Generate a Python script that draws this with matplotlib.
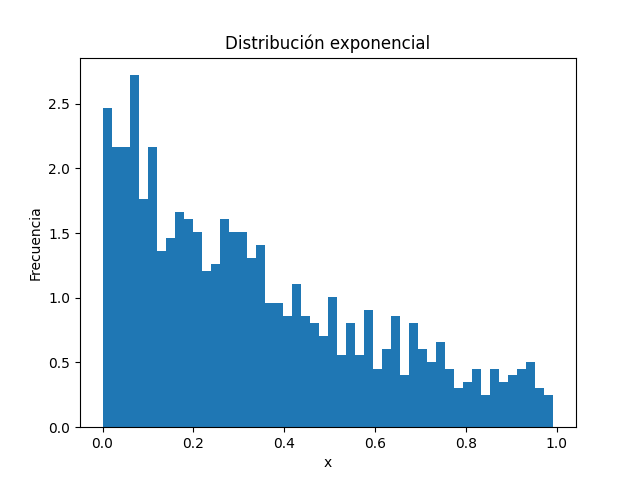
import numpy as np
import matplotlib
matplotlib.use("Agg")
import matplotlib.pyplot as plt

# counts per bin (1000 samples, 50 bins between data min and max)
counts = [49, 43, 43, 54, 35, 43, 27, 29, 33, 32,
          30, 24, 25, 32, 30, 30, 26, 28, 19, 19,
          17, 22, 17, 16, 14, 20, 11, 16, 11, 18,
          9, 12, 17, 8, 16, 12, 10, 13, 9, 6,
          7, 9, 5, 9, 7, 8, 9, 10, 6, 5]
data_min = 0.0
data_max = 0.993
n_bins = 50

edges = np.linspace(data_min, data_max, n_bins + 1)
centers = (edges[:-1] + edges[1:]) / 2

fig, ax = plt.subplots(figsize=(6.4, 4.8), dpi=100)
ax.hist(centers, bins=edges, weights=counts, density=True, color="#1f77b4")
ax.set_title("Distribución exponencial")
ax.set_xlabel("x")
ax.set_ylabel("Frecuencia")
fig.savefig("out.png")
